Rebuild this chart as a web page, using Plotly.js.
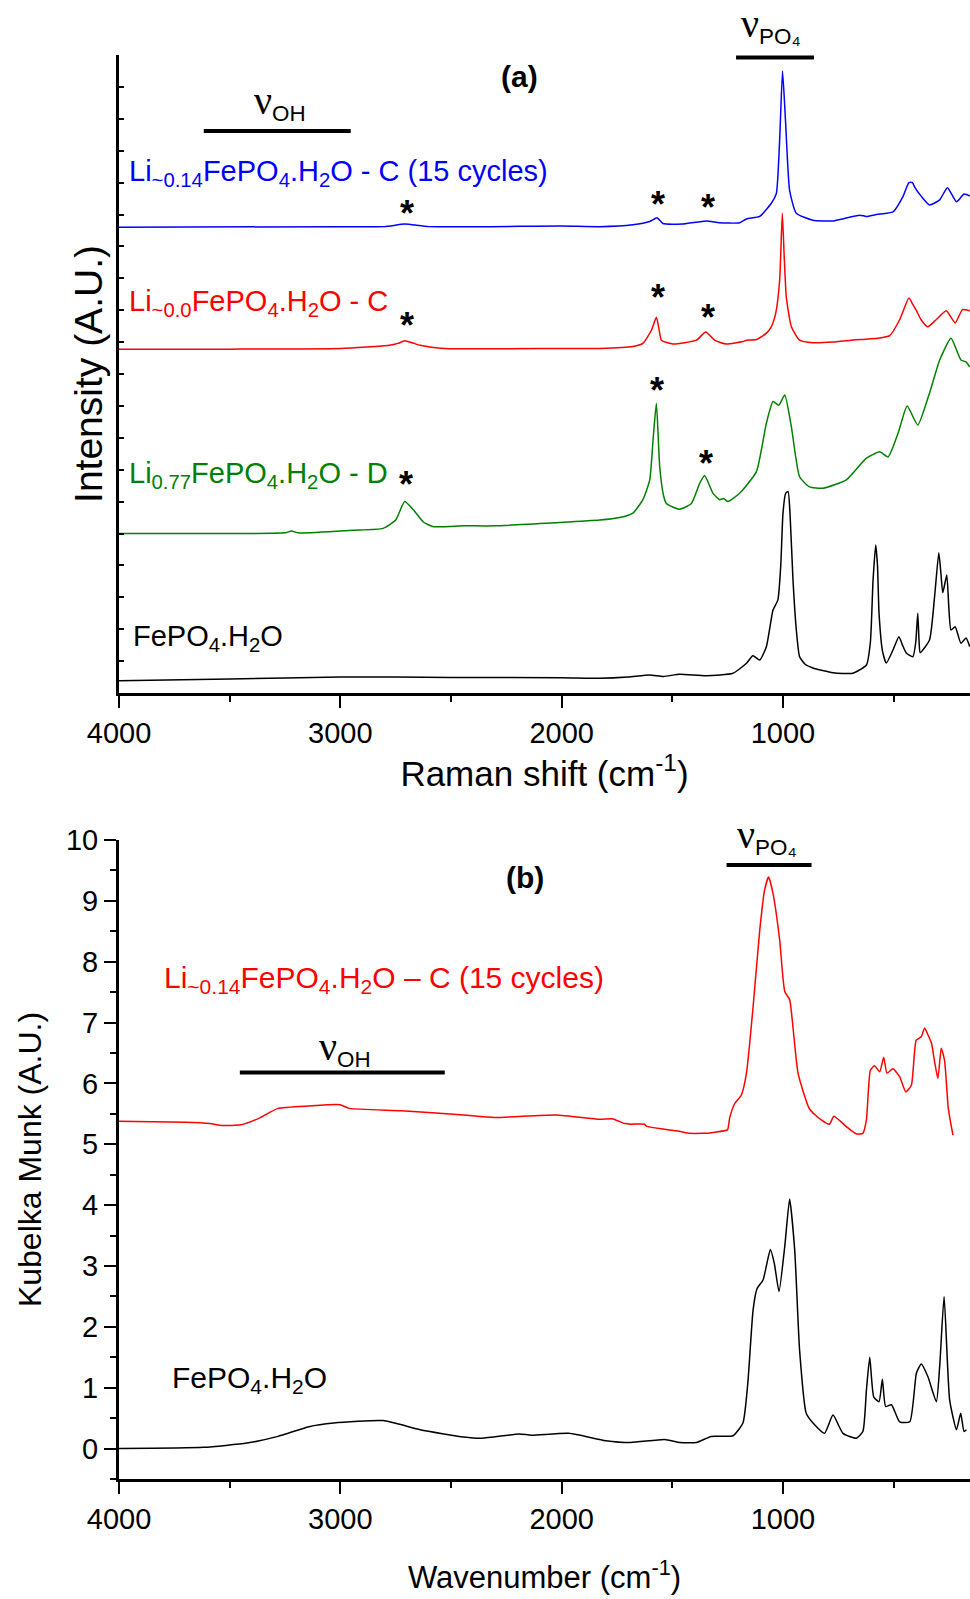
<!DOCTYPE html>
<html>
<head>
<meta charset="utf-8">
<script src="https://cdn.plot.ly/plotly-3.0.1.min.js"></script>
<style>html,body{margin:0;padding:0;background:#fff;}</style>
</head>
<body>
<div id="chart" style="width:970px;height:1599px;"></div>
<script>
// ---------- Panel (a): Raman spectra (arbitrary stacked intensity units) ----------
const ramanBlackX = [4000,3500,3000,2500,2000,1828,1700,1602,1540,1467,1347,1226,1165,1136,1105,1075,1045,1023,1010,1000,988,977,968,955,940,925,900,865,774,684,623,605,593,581,573,566,550,533,503,476,460,443,413,400,391,385,380,338,315,296,287,278,260,250,241,222,196,173,156];
const ramanBlackY = [1.93,2.2,2.51,2.45,2.4,2.3,2.5,2.82,2.6,2.93,2.71,3.09,4.66,5.85,5.17,7.26,13.0,14.6,20,28.2,31.3,31.6,28,17.9,10,5.69,4.5,3.92,3.18,3.09,4.39,8,17.7,23.2,20,12.5,6.5,4.7,6.74,8.82,7.5,6.27,5.69,8,12.5,8,6.32,8.31,15.1,22.0,19,15.7,18.5,13,9.87,10.4,7.79,8.62,7.26];

const ramanGreenX = [4000,3600,3250,3220,3190,2946,2807,2750,2709,2665,2625,2583,2443,2303,2024,1828,1738,1678,1633,1602,1587,1572,1557,1540,1527,1467,1414,1376,1354,1316,1286,1268,1249,1196,1120,1075,1045,1019,992,962,925,880,819,714,623,563,525,480,439,391,338,292,241,196,173,156];
const ramanGreenY = [25.0,25.0,25.1,25.4,25.1,25.5,25.8,27.1,30.0,28.5,26.8,26.1,26.2,26.2,26.7,27.1,27.5,28.2,30.3,33.4,39.7,45.4,35.5,31,29.7,28.8,29.7,32.9,34.1,31.3,30.3,30.5,30.0,31.3,34.7,42.3,45.7,45.1,46.7,41.7,33.9,32.3,32.1,33.4,36.8,37.8,37.0,40.7,45.0,42.0,47.0,52.2,55.6,52.2,51.9,51.1];

const ramanRedX = [4000,3500,3000,2779,2740,2709,2675,2639,2527,2000,1828,1678,1633,1594,1572,1560,1549,1497,1391,1349,1309,1256,1181,1165,1120,1075,1053,1033,1015,1003,994,985,962,925,865,774,654,571,518,473,431,415,398,376,346,308,262,222,189,156];
const ramanRedY = [53.9,53.9,54.0,54.5,54.8,55.2,54.9,54.5,54.0,54.0,54.0,54.3,54.8,56.9,58.9,57.0,55.3,54.7,55.3,56.6,55.3,54.7,55.1,55.3,55.4,56.4,57.4,59.5,64.7,75.2,68,62.1,57.4,55.3,54.9,55.0,55.4,55.6,56.0,58.5,61.9,61,60.0,58.5,57.4,58.5,59.9,58.0,60.1,59.9];

const ramanBlueX = [4000,3000,2800,2709,2600,2000,1828,1678,1602,1569,1542,1452,1347,1286,1196,1165,1105,1052,1030,1015,1002,988,970,940,865,774,654,623,578,503,458,431,415,405,374,338,292,257,216,182,156];
const ramanBlueY = [73.0,73.1,73.1,73.5,73.1,73.2,73.1,73.4,73.9,74.5,73.6,73.5,74.0,73.7,73.7,74.3,74.7,76.8,78.3,86.7,97.5,89.3,78.8,75.2,74.1,74.0,74.9,74.7,75.0,75.4,77.8,80.0,80.0,79.3,77.8,76.5,77.3,79.2,77.0,78.2,77.9];

// ---------- Panel (b): Kubelka Munk spectra ----------
const kmRedX = [4000,3701,3590,3533,3449,3366,3282,3142,3002,2960,2723,2443,2304,2024,1828,1772,1715,1688,1625,1618,1464,1422,1354,1346,1255,1249,1241,1218,1188,1165,1135,1105,1083,1065,1045,1015,992,970,955,932,880,827,790,770,714,669,639,623,605,586,563,545,530,503,473,445,420,398,375,360,345,329,315,300,285,270,254,247,232];
const kmRedY = [5.38,5.36,5.34,5.31,5.32,5.43,5.59,5.63,5.65,5.59,5.55,5.48,5.44,5.48,5.41,5.42,5.34,5.33,5.33,5.30,5.21,5.18,5.18,5.18,5.23,5.25,5.43,5.67,5.81,6.17,7.26,8.52,9.18,9.39,9.12,8.36,7.51,7.38,6.93,6.17,5.58,5.40,5.33,5.46,5.29,5.17,5.18,5.40,6.22,6.29,6.19,6.43,6.17,6.24,6.11,5.86,5.97,6.71,6.77,6.91,6.80,6.66,6.36,6.08,6.58,6.38,5.62,5.45,5.15];

const kmBlackX = [4000,3618,3422,3282,3142,3030,2807,2639,2443,2360,2192,2136,1968,1801,1688,1535,1465,1391,1325,1226,1181,1159,1135,1117,1090,1057,1039,1018,992,970,947,925,895,857,812,774,729,669,639,623,608,590,566,551,536,510,473,427,397,375,345,307,292,272,247,216,197,182,171];
const kmBlackY = [0.0,0.02,0.09,0.20,0.36,0.42,0.46,0.31,0.19,0.17,0.24,0.22,0.25,0.13,0.10,0.15,0.10,0.10,0.20,0.21,0.42,1.07,2.28,2.63,2.77,3.27,3.04,2.58,3.32,4.10,3.26,1.62,0.58,0.39,0.25,0.55,0.25,0.17,0.28,0.96,1.50,0.85,0.77,1.14,0.69,0.72,0.44,0.44,1.24,1.39,1.18,0.77,1.35,2.50,0.80,0.31,0.58,0.28,0.31];

// ---------- labels ----------
const ramanLabels = [
  'Li<sub>~0.14</sub>FePO<sub>4</sub>.H<sub>2</sub>O - C (15 cycles)',
  'Li<sub>~0.0</sub>FePO<sub>4</sub>.H<sub>2</sub>O - C',
  'Li<sub>0.77</sub>FePO<sub>4</sub>.H<sub>2</sub>O - D',
  'FePO<sub>4</sub>.H<sub>2</sub>O'
];
const kmLabels = [
  'Li<sub>~0.14</sub>FePO<sub>4</sub>.H<sub>2</sub>O – C (15 cycles)',
  'FePO<sub>4</sub>.H<sub>2</sub>O'
];

const BLUE = '#0000ff', RED = '#ff0000', GREEN = '#008000', BLACK = '#000000';
const FONT = 'Liberation Sans, Arial, sans-serif';
const NU = '<span style="font-family:\'Liberation Serif\',serif;font-size:40px">ν</span>';

function line(x, y, color, xa, ya) {
  return {x: x, y: y, type: 'scatter', mode: 'lines', xaxis: xa, yaxis: ya,
          line: {color: color, width: 1.5, shape: 'spline', smoothing: 0.5}, hoverinfo: 'skip'};
}

const data = [
  line(ramanBlackX, ramanBlackY, BLACK, 'x', 'y'),
  line(ramanGreenX, ramanGreenY, GREEN, 'x', 'y'),
  line(ramanRedX, ramanRedY, RED, 'x', 'y'),
  line(ramanBlueX, ramanBlueY, BLUE, 'x', 'y'),
  line(kmBlackX, kmBlackY, BLACK, 'x2', 'y2'),
  line(kmRedX, kmRedY, RED, 'x2', 'y2')
];

function xAxisBase(extra) {
  return Object.assign({
    range: [4000, 155], showline: true, linewidth: 3, linecolor: 'black',
    showgrid: false, zeroline: false, ticks: 'outside', ticklen: 12, tickwidth: 2,
    tickcolor: 'black', tick0: 0, dtick: 1000,
    minor: {dtick: 500, tick0: 0, ticks: 'outside', ticklen: 6, tickwidth: 2, tickcolor: 'black', showgrid: false},
    tickfont: {size: 29, family: FONT, color: 'black'}, automargin: false, fixedrange: true
  }, extra);
}

function ann(x, y, text, xref, yref, opts) {
  return Object.assign({x: x, y: y, xref: xref, yref: yref, text: text, showarrow: false,
    xanchor: 'left', yanchor: 'middle', font: {family: FONT, size: 29, color: 'black'}}, opts || {});
}
function star(x, y) {
  return ann(x, y, '<b>*</b>', 'x', 'y', {xanchor: 'center', yshift: -3, font: {family: FONT, size: 36, color: 'black'}});
}

const layout = {
  width: 970, height: 1599,
  margin: {l: 119, r: 0, t: 0, b: 0, pad: 0},
  paper_bgcolor: 'white', plot_bgcolor: 'white',
  showlegend: false,
  font: {family: FONT, color: 'black', size: 28},
  xaxis: xAxisBase({anchor: 'y', domain: [0, 1],
    title: {text: 'Raman shift (cm<sup>-1</sup>)', font: {size: 35, family: FONT, color: 'black'}, standoff: 14}}),
  yaxis: {anchor: 'x', domain: [0.5666, 0.9656], range: [0, 100], showline: true, linewidth: 3,
    linecolor: 'black', showgrid: false, zeroline: false, ticks: 'inside', ticklen: 5, tickwidth: 2,
    tickcolor: 'black', tick0: 0, dtick: 5, showticklabels: false, automargin: false, fixedrange: true,
    title: {text: 'Intensity (A.U.)', font: {size: 39, family: FONT, color: 'black'}, standoff: 2}},
  xaxis2: xAxisBase({anchor: 'y2', domain: [0, 1],
    title: {text: 'Wavenumber (cm<sup>-1</sup>)', font: {size: 31, family: FONT, color: 'black'}, standoff: 33}}),
  yaxis2: {anchor: 'x2', domain: [0.07505, 0.47467], range: [-0.5, 10], showline: true, linewidth: 3,
    linecolor: 'black', showgrid: false, zeroline: false, ticks: 'outside', ticklen: 12, tickwidth: 2,
    tickcolor: 'black', tick0: 0, dtick: 1,
    minor: {dtick: 0.5, tick0: 0, ticks: 'outside', ticklen: 6, tickwidth: 2, tickcolor: 'black', showgrid: false},
    tickfont: {size: 29, family: FONT, color: 'black'}, automargin: false, fixedrange: true,
    title: {text: 'Kubelka Munk (A.U.)', font: {size: 32, family: FONT, color: 'black'}, standoff: 15}},
  shapes: [
    {type: 'line', xref: 'x', yref: 'y', x0: 3617, x1: 2953, y0: 88.1, y1: 88.1, line: {color: 'black', width: 4}},
    {type: 'line', xref: 'x', yref: 'y', x0: 1212, x1: 860, y0: 99.6, y1: 99.6, line: {color: 'black', width: 4}},
    {type: 'line', xref: 'x2', yref: 'y2', x0: 3454, x1: 2528, y0: 6.18, y1: 6.18, line: {color: 'black', width: 4}},
    {type: 'line', xref: 'x2', yref: 'y2', x0: 1255, x1: 871, y0: 9.59, y1: 9.59, line: {color: 'black', width: 4}}
  ],
  annotations: [
    ann(2190, 96.7, '<b>(a)</b>', 'x', 'y', {xanchor: 'center', font: {family: FONT, size: 30, color: 'black'}}),
    ann(3274, 92.6, NU + '<sub>OH</sub>', 'x', 'y', {xanchor: 'center', font: {family: FONT, size: 32, color: 'black'}}),
    ann(1054, 0.9845, NU + '<sub>PO₄</sub>', 'x', 'paper', {xanchor: 'center', font: {family: FONT, size: 32, color: 'black'}}),
    ann(3966, 81.5, ramanLabels[0], 'x', 'y', {font: {family: FONT, size: 29, color: BLUE}}),
    ann(3966, 61.1, ramanLabels[1], 'x', 'y', {font: {family: FONT, size: 29, color: RED}}),
    ann(3966, 34.2, ramanLabels[2], 'x', 'y', {font: {family: FONT, size: 29, color: GREEN}}),
    ann(3947, 8.6, ramanLabels[3], 'x', 'y', {font: {family: FONT, size: 29, color: BLACK}}),
    star(2700, 75.7), star(1565, 77.0), star(1339, 76.5),
    star(2700, 58.0), star(1565, 62.4), star(1339, 59.4),
    star(2703, 33.1), star(1569, 47.9), star(1346, 36.5),
    ann(2165, 9.39, '<b>(b)</b>', 'x2', 'y2', {xanchor: 'center', font: {family: FONT, size: 30, color: 'black'}}),
    ann(1074, 0.4770, NU + '<sub>PO₄</sub>', 'x2', 'paper', {xanchor: 'center', font: {family: FONT, size: 32, color: 'black'}}),
    ann(2980, 6.58, NU + '<sub>OH</sub>', 'x2', 'y2', {xanchor: 'center', font: {family: FONT, size: 32, color: 'black'}}),
    ann(3807, 7.70, kmLabels[0], 'x2', 'y2', {font: {family: FONT, size: 30, color: RED}}),
    ann(3771, 1.13, kmLabels[1], 'x2', 'y2', {font: {family: FONT, size: 30, color: BLACK}})
  ]
};

Plotly.newPlot('chart', data, layout, {displayModeBar: false, staticPlot: true});
</script>
</body>
</html>
